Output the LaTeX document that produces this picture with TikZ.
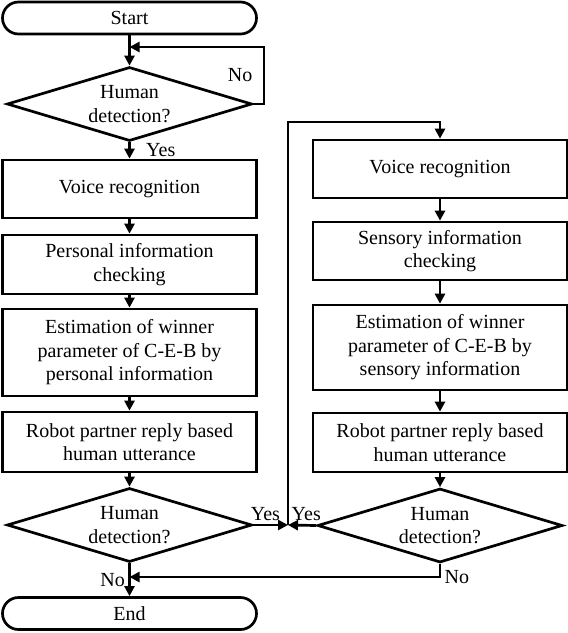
\documentclass[tikz,border=0pt]{standalone}
\usepackage{fontspec}
\setmainfont{Liberation Serif}
\usetikzlibrary{shapes.geometric, arrows.meta}

\begin{document}
\begin{tikzpicture}[x=1pt, y=-1pt,
    line width=2.7pt,
    font=\fontsize{20}{23.5}\selectfont,
    terminal/.style={draw, rounded corners=16pt, minimum width=254pt, minimum height=32pt, inner sep=0pt},
    process/.style={draw, minimum width=254pt, align=center, inner sep=0pt},
    decision/.style={draw, diamond, aspect=3.3, minimum width=245pt, minimum height=74pt, inner sep=0pt, align=center},
    flow/.style={-{Triangle[length=10pt, width=10pt]}}]

\useasboundingbox (0,0) rectangle (568,633);

\node[terminal] (start) at (129.5,18) {Start};
\node[decision] (detA) at (129.5,104) {Human\\detection?};
\node[process, minimum height=58pt] (voiceA) at (129.5,189) {Voice recognition};
\node[process, minimum height=59pt] (persA) at (129.5,264.5) {Personal information\\checking};
\node[process, minimum height=87pt] (estA) at (129.5,352.5) {Estimation of winner\\parameter of C-E-B by\\personal information};
\node[process, minimum height=60pt] (robotA) at (129.5,442) {Robot partner reply based\\human utterance};
\node[decision] (detB) at (129.5,525) {Human\\detection?};
\node[terminal] (endN) at (129.5,613.5) {End};

\node[process, minimum height=58pt] (voiceB) at (440,169) {Voice recognition};
\node[process, minimum height=58pt] (sensB) at (440,251) {Sensory information\\checking};
\node[process, minimum height=85pt] (estB) at (440,347.5) {Estimation of winner\\parameter of C-E-B by\\sensory information};
\node[process, minimum height=59pt] (robotB) at (440,442.5) {Robot partner reply based\\human utterance};
\node[decision] (detC) at (440,525.5) {Human\\detection?};

\coordinate (noA) at (264,47);
\coordinate (join) at (288,525);
\coordinate (loopB) at (288,122);
\coordinate (mergeN) at (129.5,577);

\draw[flow] (start) -- (detA);
\draw[flow] (detA.east) -| node[pos=0.75, left=7pt] {No} (noA) -- (noA -| detA);
\draw[flow] (detA) -- node[right=12pt] {Yes} (voiceA);
\draw[flow] (voiceA) -- (persA);
\draw[flow] (persA) -- (estA);
\draw[flow] (estA) -- (robotA);
\draw[flow] (robotA) -- (detB);
\draw[flow] (detB) -- node[left] {No} (endN);
\draw[flow] (detB.east) -- node[pos=0.35, above] {Yes} (join);
\draw[flow] (detC.west) -- node[pos=0.35, above] {Yes} (join);
\draw[flow] (join) -- (loopB) -| (voiceB);
\draw[flow] (voiceB) -- (sensB);
\draw[flow] (sensB) -- (estB);
\draw[flow] (estB) -- (robotB);
\draw[flow] (robotB) -- (detC);
\draw[flow] (detC.south) |- node[pos=0.5, right] {No} (mergeN);

\end{tikzpicture}
\end{document}
